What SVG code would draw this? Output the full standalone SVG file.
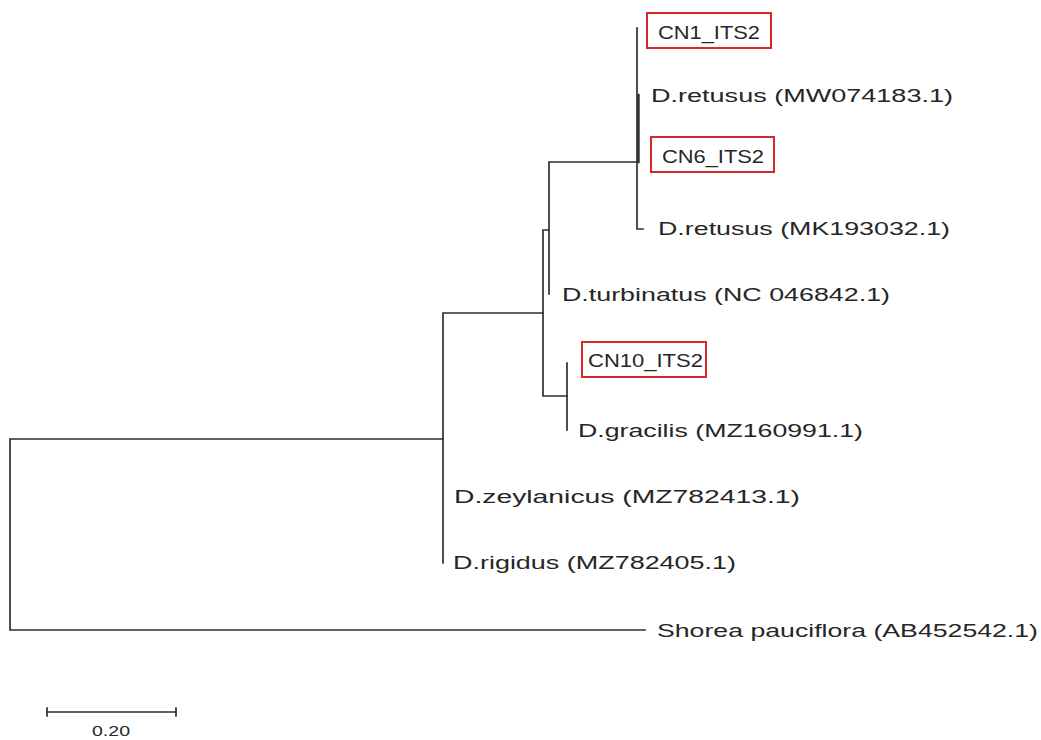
<svg xmlns="http://www.w3.org/2000/svg" width="1041" height="740" viewBox="0 0 1041 740">
<style>
.br{stroke:#2e2e2e;stroke-width:1.7;fill:none;stroke-linecap:square}
.lb{font-family:"Liberation Sans",Arial,sans-serif;font-size:17.5px;fill:#262626}
.cn{font-family:"Liberation Sans",Arial,sans-serif;font-size:19px;fill:#262626}
.bx{fill:none;stroke:#d42a2a;stroke-width:2}
</style>
<rect width="1041" height="740" fill="#fff"/>
<g id="connectors">
<path class="br" d="M10 439 V630 M10 439 H443 M10 630 H645"/>
<path class="br" d="M443 313 V563 M443 313 H543"/>
<path class="br" d="M543 230 V396 M543 230 H549 M543 396 H567"/>
<path class="br" d="M549 162 V294 M549 162 H637"/>
<path class="br" d="M637 28 V229 H643"/>
<path class="br" d="M638.5 95 V162" style="stroke-width:2.4"/>
<path class="br" d="M567 363 V430"/>
</g>
<g id="cn1">
<rect class="bx" x="647" y="13" width="124" height="35"/>
<text class="cn" x="658" y="39" textLength="102" lengthAdjust="spacingAndGlyphs">CN1_ITS2</text>
</g>
<g id="retusus-mw">
<text class="lb" x="651" y="102" textLength="302" lengthAdjust="spacingAndGlyphs">D.retusus (MW074183.1)</text>
</g>
<g id="cn6">
<rect class="bx" x="651" y="137" width="123" height="35"/>
<text class="cn" x="662" y="163" textLength="102" lengthAdjust="spacingAndGlyphs">CN6_ITS2</text>
</g>
<g id="retusus-mk">
<text class="lb" x="658" y="235" textLength="292" lengthAdjust="spacingAndGlyphs">D.retusus (MK193032.1)</text>
</g>
<g id="turbinatus">
<text class="lb" x="562" y="301" textLength="328" lengthAdjust="spacingAndGlyphs">D.turbinatus (NC 046842.1)</text>
</g>
<g id="cn10">
<rect class="bx" x="582" y="342" width="124" height="35"/>
<text class="cn" x="588" y="367" textLength="115" lengthAdjust="spacingAndGlyphs">CN10_ITS2</text>
</g>
<g id="gracilis">
<text class="lb" x="578" y="437" textLength="285" lengthAdjust="spacingAndGlyphs">D.gracilis (MZ160991.1)</text>
</g>
<g id="zeylanicus">
<text class="lb" x="454" y="503" textLength="346" lengthAdjust="spacingAndGlyphs">D.zeylanicus (MZ782413.1)</text>
</g>
<g id="rigidus">
<text class="lb" x="453" y="569" textLength="283" lengthAdjust="spacingAndGlyphs">D.rigidus (MZ782405.1)</text>
</g>
<g id="shorea">
<text class="lb" x="657" y="637" textLength="381" lengthAdjust="spacingAndGlyphs">Shorea pauciflora (AB452542.1)</text>
</g>
<g id="scale">
<path class="br" d="M47 712 H176 M47 708 V716 M176 708 V716"/>
<text class="lb" x="92" y="736" style="font-size:14px" textLength="38" lengthAdjust="spacingAndGlyphs">0.20</text>
</g>
</svg>
